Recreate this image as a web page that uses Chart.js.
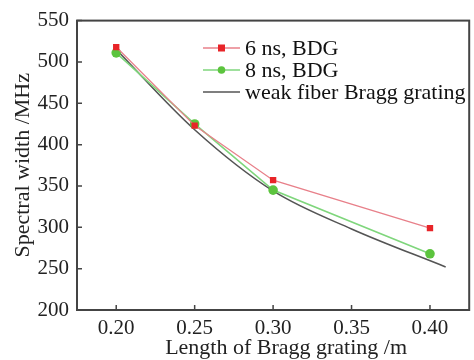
<!DOCTYPE html>
<html>
<head>
<meta charset="utf-8">
<style>
  html, body { margin: 0; padding: 0; background: #fff; }
</style>
<script src="https://cdn.jsdelivr.net/npm/chart.js@4/dist/chart.umd.min.js"></script>
</head>
<body>
<canvas id="myChart" width="474" height="360"></canvas>
<script>
// values
const lengths = [0.20, 0.25, 0.30, 0.40];
const bdg6ns = [518, 423, 357, 299];
const bdg8ns = [511, 425, 345, 268];
const weakLengths = [0.20, 0.25, 0.30, 0.35, 0.41];
const weakWidth = [515, 418, 344, 298, 252];
const xTicks = [0.20, 0.25, 0.30, 0.35, 0.40];
const yTicks = [200, 250, 300, 350, 400, 450, 500, 550];
const xTitle = "Length of Bragg grating /m";

const serif = "'Liberation Serif', 'DejaVu Serif', serif";
const axisColor = "#444";

const toPoints = (xs, ys) => xs.map((x, i) => ({ x: x, y: ys[i] }));

// frame, inward ticks, x title and the legend inside the plot
const framePlugin = {
  id: "frame",
  afterDraw(chart) {
    const { ctx, chartArea: a, scales } = chart;
    ctx.save();
    ctx.strokeStyle = axisColor;
    ctx.lineWidth = 2;
    ctx.strokeRect(a.left, a.top, a.right - a.left, a.bottom - a.top);
    ctx.lineWidth = 1.5;
    ctx.beginPath();
    xTicks.forEach((v) => {
      const px = scales.x.getPixelForValue(v);
      ctx.moveTo(px, a.bottom);
      ctx.lineTo(px, a.bottom - 5);
    });
    yTicks.forEach((v) => {
      const py = scales.y.getPixelForValue(v);
      ctx.moveTo(a.left, py);
      ctx.lineTo(a.left + 5, py);
    });
    ctx.stroke();

    // x axis title (sits a bit right of centre in the original)
    ctx.fillStyle = "#222";
    ctx.font = "22px " + serif;
    ctx.textAlign = "center";
    ctx.textBaseline = "middle";
    ctx.fillText(xTitle, scales.x.getPixelForValue(0.3) + 13, 348);

    // legend
    const lx = 203, tx = 245;
    let ly = 48;
    ctx.textAlign = "left";
    chart.data.datasets.forEach((ds) => {
      ctx.strokeStyle = ds.borderColor;
      ctx.lineWidth = ds.borderWidth;
      ctx.beginPath();
      ctx.moveTo(lx, ly);
      ctx.lineTo(lx + 37, ly);
      ctx.stroke();
      if (ds.pointRadius > 0) {
        ctx.fillStyle = ds.pointBackgroundColor;
        if (ds.pointStyle === "rect") {
          ctx.fillRect(lx + 15, ly - 3.5, 7, 7);
        } else {
          ctx.beginPath();
          ctx.arc(lx + 18.5, ly, 3.8, 0, Math.PI * 2);
          ctx.fill();
        }
      }
      ctx.fillStyle = "#111";
      ctx.fillText(ds.label, tx, ly + 1);
      ly += 22;
    });
    ctx.restore();
  },
};

new Chart(document.getElementById("myChart"), {
  type: "line",
  data: {
    datasets: [
      {
        label: "6 ns, BDG",
        data: toPoints(lengths, bdg6ns),
        borderColor: "#e8808a",
        borderWidth: 1.3,
        pointStyle: "rect",
        pointRadius: 4.5,
        pointBackgroundColor: "#e82428",
        pointBorderColor: "#e82428",
        pointBorderWidth: 0,
        tension: 0,
      },
      {
        label: "8 ns, BDG",
        data: toPoints(lengths, bdg8ns),
        borderColor: "#7fd67c",
        borderWidth: 1.6,
        pointStyle: "circle",
        pointRadius: 4.8,
        pointBackgroundColor: "#5cc43e",
        pointBorderColor: "#5cc43e",
        pointBorderWidth: 0,
        tension: 0,
      },
      {
        label: "weak fiber Bragg grating",
        data: toPoints(weakLengths, weakWidth),
        borderColor: "#555",
        borderWidth: 1.6,
        pointRadius: 0,
        cubicInterpolationMode: "monotone",
      },
    ],
  },
  options: {
    responsive: false,
    animation: false,
    layout: { padding: { top: 16, right: 3, left: 0, bottom: 0 } },
    plugins: {
      legend: { display: false },
      tooltip: { enabled: false },
    },
    scales: {
      x: {
        type: "linear",
        min: 0.175,
        max: 0.425,
        afterBuildTicks: (scale) => {
          scale.ticks = xTicks.map((v) => ({ value: v }));
        },
        afterFit: (scale) => {
          scale.height = 50;
        },
        grid: { display: false, drawTicks: false },
        border: { display: false },
        ticks: {
          padding: 6,
          color: "#222",
          font: { family: serif, size: 21 },
          callback: (v) => v.toFixed(2),
          maxRotation: 0,
        },
      },
      y: {
        min: 200,
        max: 550,
        afterBuildTicks: (scale) => {
          scale.ticks = yTicks.map((v) => ({ value: v }));
        },
        afterFit: (scale) => {
          scale.width = 77;
        },
        grid: { display: false, drawTicks: false },
        border: { display: false },
        ticks: {
          padding: 8,
          color: "#222",
          font: { family: serif, size: 21 },
        },
        title: {
          display: true,
          text: "Spectral width /MHz",
          color: "#222",
          font: { family: serif, size: 22 },
          padding: { top: 10, bottom: 0 },
        },
      },
    },
  },
  plugins: [framePlugin],
});
</script>
</body>
</html>
